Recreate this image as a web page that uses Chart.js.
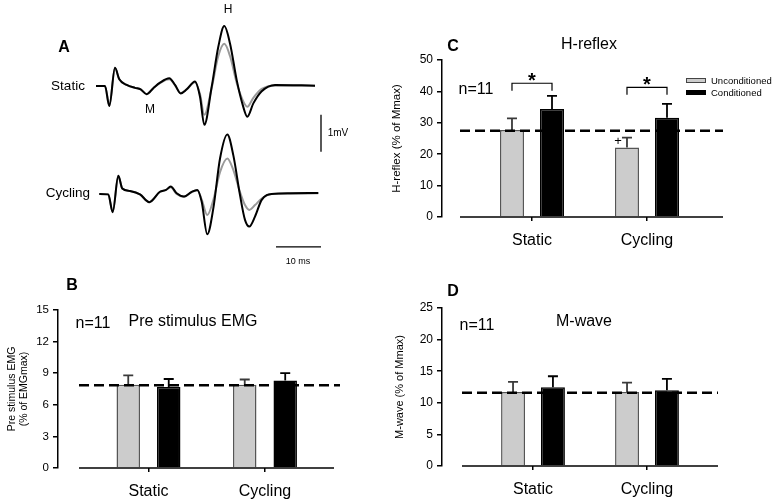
<!DOCTYPE html>
<html><head><meta charset="utf-8">
<script src="https://cdn.jsdelivr.net/npm/chart.js@4.4.1/dist/chart.umd.min.js"></script>
<style>
html,body{margin:0;padding:0;background:#fff;}
#wrap{position:relative;width:775px;height:501px;overflow:hidden;font-family:"Liberation Sans",Arial,sans-serif;color:#000;}
canvas{position:absolute;}
.t{position:absolute;white-space:nowrap;transform:translate(-50%,-50%);line-height:1;}
.b{font-weight:bold;font-size:16px;}
.lg{position:absolute;white-space:nowrap;font-size:9.5px;line-height:1;transform:translateY(-50%);}
.sw{position:absolute;width:20px;height:5px;box-sizing:border-box;}
</style></head><body>
<div id="wrap">
<canvas id="cA" style="left:0;top:0" width="380" height="260"></canvas>
<canvas id="cB" style="left:0;top:260px" width="380" height="241"></canvas>
<canvas id="cC" style="left:380px;top:0" width="395" height="260"></canvas>
<canvas id="cD" style="left:380px;top:260px" width="395" height="241"></canvas>

<div class="t b" style="left:64px;top:47px">A</div>
<div class="t" style="left:68px;top:86px;font-size:13.5px">Static</div>
<div class="t" style="left:68px;top:193px;font-size:13.5px">Cycling</div>
<div class="t" style="left:150px;top:109px;font-size:12px">M</div>
<div class="t" style="left:228px;top:9px;font-size:12px">H</div>
<div class="t" style="left:338px;top:133px;font-size:10px">1mV</div>
<div class="t" style="left:298px;top:261px;font-size:9px">10 ms</div>

<div class="t b" style="left:72px;top:285px">B</div>
<div class="t" style="left:93px;top:323px;font-size:16px">n=11</div>
<div class="t" style="left:193px;top:321px;font-size:16px">Pre stimulus EMG</div>

<div class="t b" style="left:453px;top:46px">C</div>
<div class="t" style="left:476px;top:89px;font-size:16px">n=11</div>
<div class="t" style="left:589px;top:44px;font-size:16px">H-reflex</div>
<div class="t" style="left:618px;top:140px;font-size:13px">+</div>
<div class="sw" style="left:686px;top:78px;background:#cccccc;border:1px solid #444"></div>
<div class="sw" style="left:686px;top:90px;background:#000"></div>
<div class="lg" style="left:711px;top:80.5px">Unconditioned</div>
<div class="lg" style="left:711px;top:93px">Conditioned</div>

<div class="t b" style="left:453px;top:291px">D</div>
<div class="t" style="left:477px;top:325px;font-size:16px">n=11</div>
<div class="t" style="left:584px;top:321px;font-size:16px">M-wave</div>
</div>

<script>
const FAMILY = '"Liberation Sans", Arial, sans-serif';

// ---------- Panel A : EMG traces (time in ms, amplitude in mV) ----------
const staticTime = [0, 2.0, 2.96, 4.22, 5.18, 6.82, 8.67, 9.93, 11.27, 12.73, 14.22, 16.29, 17.56, 18.82, 20.16, 22.0, 23.11, 24.07, 25.71, 27.18, 28.51, 29.78, 31.27, 32.6, 33.62, 34.96, 36.82, 39.78, 48.67];
const staticConditioned = [0, 0, -0.54, 0.49, 0.18, 0.03, -0.05, -0.09, -0.22, -0.06, 0.09, 0.21, 0.03, -0.20, -0.09, 0.12, -0.29, -1.05, -0.02, 1.06, 1.62, 1.15, 0.16, -0.51, -0.83, -0.47, -0.14, 0.03, 0.01];
const staticUnconditioned = [0, 0, -0.54, 0.49, 0.18, 0.03, -0.05, -0.09, -0.22, -0.06, 0.08, 0.18, 0.02, -0.19, -0.09, 0.10, -0.22, -0.78, -0.05, 0.81, 1.14, 0.81, 0.08, -0.38, -0.56, -0.32, -0.08, 0.01, 0.01];

const cyclingTime = [0.73, 2.73, 3.71, 4.96, 5.84, 7.56, 9.78, 11.84, 14.22, 15.56, 16.6, 17.93, 19.56, 21.27, 22.51, 23.49, 24.73, 26.07, 27.56, 29.18, 30.51, 32.0, 33.11, 34.07, 35.33, 36.82, 39.04, 43.11, 49.4];
const cyclingConditioned = [0, -0.01, -0.49, 0.49, 0.15, 0.08, -0.01, -0.22, 0.06, 0.11, 0.20, 0.02, -0.07, 0.06, 0.11, -0.21, -1.09, -0.39, 0.96, 1.61, 1.05, -0.03, -0.70, -0.88, -0.61, -0.16, 0, 0.02, 0.03];
const cyclingUnconditioned = [0, -0.01, -0.49, 0.49, 0.15, 0.08, -0.01, -0.22, 0.06, 0.11, 0.18, 0.0, -0.08, 0.05, 0.10, -0.15, -0.57, -0.16, 0.59, 0.96, 0.65, 0.05, -0.30, -0.43, -0.30, -0.12, 0, 0.01, 0.02];

// scale bars: 1 mV vertical, 10 ms horizontal
const mvBarTime = [50, 50];
const mvBarAmp = [-0.78, -1.78];
const msBarTime = [40, 50];
const msBarAmp = [-1.43, -1.43];

// ---------- Bar panels ----------
const groups = ['Static', 'Cycling'];

const emgUncond = [7.9, 7.9];
const emgUncondErr = [0.9, 0.5];
const emgCond = [7.7, 8.3];
const emgCondErr = [0.75, 0.7];
const emgRef = 7.85;

const hUncond = [27.7, 22.1];
const hUncondErr = [3.7, 3.2];
const hCond = [34.4, 31.6];
const hCondErr = [4.2, 4.4];
const hRef = 27.5;
const hBracketTop = [42.6, 41.3];

const mUncond = [11.7, 11.7];
const mUncondErr = [1.6, 1.5];
const mCond = [12.45, 12.0];
const mCondErr = [1.75, 1.8];
const mRef = 11.6;

// ---------- Panel A chart ----------
const pts = (xs, ys) => xs.map((x, i) => ({x, y: ys[i]}));
new Chart(document.getElementById('cA'), {
  type: 'line',
  data: {
    datasets: [
      {data: pts(staticTime, staticConditioned), yAxisID: 'ys', borderColor: '#000', borderWidth: 2},
      {data: pts(cyclingTime, cyclingConditioned), yAxisID: 'yc', borderColor: '#000', borderWidth: 2},
      {data: pts(staticTime, staticUnconditioned), yAxisID: 'ys', borderColor: '#9a9a9a', borderWidth: 2},
      {data: pts(cyclingTime, cyclingUnconditioned), yAxisID: 'yc', borderColor: '#9a9a9a', borderWidth: 2},
      {data: pts(mvBarTime, mvBarAmp), yAxisID: 'ys', borderColor: '#000', borderWidth: 1.3, cubicInterpolationMode: 'default', tension: 0},
      {data: pts(msBarTime, msBarAmp), yAxisID: 'yc', borderColor: '#000', borderWidth: 1.3, cubicInterpolationMode: 'default', tension: 0}
    ]
  },
  options: {
    responsive: false, animation: false,
    layout: {padding: 0},
    elements: {point: {radius: 0}, line: {cubicInterpolationMode: 'monotone', borderCapStyle: 'butt'}},
    plugins: {legend: {display: false}, tooltip: {enabled: false}},
    scales: {
      x: {type: 'linear', display: false, min: -21.333, max: 63.111},
      ys: {type: 'linear', display: false, min: -4.7027, max: 2.3243},
      yc: {type: 'linear', display: false, min: -1.7838, max: 5.2432}
    }
  }
});

// ---------- Bar chart factory ----------
function makeBar(id, p) {
  const toPts = arr => arr.map((v, i) => ({x: i + 1, y: v}));
  const extras = {
    id: 'extras_' + id,
    afterDatasetsDraw(chart) {
      const {ctx, chartArea: a, scales: {y}} = chart;
      ctx.save();
      // error bars (upper only)
      chart.data.datasets.forEach((ds, di) => {
        const meta = chart.getDatasetMeta(di);
        meta.data.forEach((el, i) => {
          const yt = y.getPixelForValue(ds.data[i].y + ds.errors[i]);
          ctx.strokeStyle = ds.errColor; ctx.lineWidth = 1.8;
          ctx.beginPath();
          ctx.moveTo(el.x, el.y); ctx.lineTo(el.x, yt);
          ctx.moveTo(el.x - 5, yt); ctx.lineTo(el.x + 5, yt);
          ctx.stroke();
        });
      });
      // reference dashed line
      const yr = y.getPixelForValue(p.ref);
      ctx.strokeStyle = '#000';
      ctx.setLineDash([10, 5]); ctx.lineWidth = 2.5;
      ctx.beginPath(); ctx.moveTo(a.left + p.inset[0], yr); ctx.lineTo(a.right, yr); ctx.stroke();
      ctx.setLineDash([]);
      // x axis baseline
      ctx.lineWidth = 1.5;
      ctx.beginPath(); ctx.moveTo(a.left + p.inset[0], a.bottom); ctx.lineTo(a.right - p.inset[1], a.bottom); ctx.stroke();
      // significance brackets
      (p.brackets || []).forEach((top, g) => {
        const m0 = chart.getDatasetMeta(0).data[g], m1 = chart.getDatasetMeta(1).data[g];
        const yt = y.getPixelForValue(top), yb = y.getPixelForValue(top - 2.4);
        ctx.lineWidth = 1.2;
        ctx.beginPath(); ctx.moveTo(m0.x, yb); ctx.lineTo(m0.x, yt); ctx.lineTo(m1.x, yt); ctx.lineTo(m1.x, yb); ctx.stroke();
        ctx.fillStyle = '#000';
        ctx.font = 'bold 20px ' + FAMILY; ctx.textAlign = 'center'; ctx.textBaseline = 'alphabetic';
        ctx.fillText('*', (m0.x + m1.x) / 2, yt + 4);
      });
      ctx.restore();
    }
  };
  return new Chart(document.getElementById(id), {
    type: 'bar',
    data: {
      datasets: [
        {label: 'Unconditioned', data: toPts(p.uncond), errors: p.errU, errColor: '#3a3a3a',
         backgroundColor: '#cccccc', borderColor: '#555555', borderWidth: 1.5,
         categoryPercentage: p.cat, barPercentage: p.bar},
        {label: 'Conditioned', data: toPts(p.cond), errors: p.errC, errColor: '#000',
         backgroundColor: '#000', borderColor: '#000', borderWidth: 1.5,
         categoryPercentage: p.cat, barPercentage: p.bar}
      ]
    },
    options: {
      responsive: false, animation: false,
      layout: {padding: {top: p.top, right: p.right, bottom: 0, left: 0}},
      plugins: {legend: {display: false}, tooltip: {enabled: false}},
      scales: {
        x: {
          type: 'linear', min: p.xMin, max: p.xMax, offset: false,
          border: {display: false},
          grid: {display: true, offset: false, drawOnChartArea: false, drawTicks: true, tickLength: 4, color: '#000', lineWidth: 1.5},
          afterBuildTicks: s => { s.ticks = groups.map((g, i) => ({value: i + 1})); },
          ticks: {callback: v => groups[v - 1] || '', font: {size: 16, family: FAMILY}, color: '#000', padding: 10, maxRotation: 0, autoSkip: false},
          afterFit: s => { s.height = p.xh; }
        },
        y: {
          min: 0, max: p.yMax,
          border: {display: true, color: '#000', width: 1.5},
          grid: {drawOnChartArea: false, drawTicks: true, tickLength: 5, color: '#000', lineWidth: 1.5},
          ticks: {stepSize: p.step, font: {size: p.tickSize, family: FAMILY}, color: '#000', padding: 4},
          title: {display: true, text: p.yTitle, color: '#000', font: {size: p.titleSize, family: FAMILY, lineHeight: p.titleLH}, padding: {top: p.titlePad, bottom: 0}},
          afterFit: s => { s.width = p.yw; }
        }
      }
    },
    plugins: [extras]
  });
}

makeBar('cB', {
  uncond: emgUncond, errU: emgUncondErr, cond: emgCond, errC: emgCondErr, ref: emgRef,
  yMax: 15, step: 3, tickSize: 11.5, yTitle: ['Pre stimulus EMG', '(% of EMGmax)'], titleSize: 10.5, titleLH: 1.12, titlePad: 6.5,
  yw: 58, xh: 33, top: 50, right: 40, xMin: 0.2232, xMax: 2.644, cat: 0.695, bar: 0.58, inset: [21, 6]
});
makeBar('cC', {
  uncond: hUncond, errU: hUncondErr, cond: hCond, errC: hCondErr, ref: hRef, brackets: hBracketTop,
  yMax: 50, step: 10, tickSize: 12, yTitle: 'H-reflex (% of Mmax)', titleSize: 11.5, titleLH: 1.2, titlePad: 10,
  yw: 62, xh: 43, top: 60, right: 52, xMin: 0.2174, xMax: 2.661, cat: 0.696, bar: 0.6, inset: [18, 0]
});
makeBar('cD', {
  uncond: mUncond, errU: mUncondErr, cond: mCond, errC: mCondErr, ref: mRef,
  yMax: 25, step: 5, tickSize: 12, yTitle: 'M-wave (% of Mmax)', titleSize: 11, titleLH: 1.2, titlePad: 13,
  yw: 62, xh: 35, top: 48, right: 57, xMin: 0.2018, xMax: 2.623, cat: 0.70, bar: 0.6, inset: [20, 0]
});
</script>
</body></html>
